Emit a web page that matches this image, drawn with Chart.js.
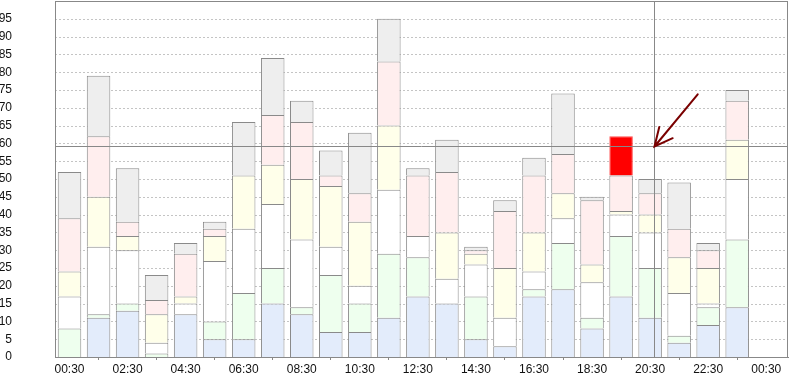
<!DOCTYPE html>
<html>
<head>
<meta charset="utf-8">
<script src="https://cdn.jsdelivr.net/npm/chart.js@4.4.1/dist/chart.umd.min.js"></script>
<style>
  html, body { margin: 0; padding: 0; background: #fff; }
  #wrap { width: 790px; height: 376px; }
</style>
</head>
<body>
<div id="wrap"><canvas id="stackChart"></canvas></div>
<script>
// hourly slots, one bar each
const slots = ['00:30','01:30','02:30','03:30','04:30','05:30','06:30','07:30','08:30','09:30','10:30','11:30',
               '12:30','13:30','14:30','15:30','16:30','17:30','18:30','19:30','20:30','21:30','22:30','23:30'];
// x axis tick positions (hours) and their labels
const tickHours = [0.5, 2.5, 4.5, 6.5, 8.5, 10.5, 12.5, 14.5, 16.5, 18.5, 20.5, 22.5, 24.5];
const tickLabels = ['00:30','02:30','04:30','06:30','08:30','10:30','12:30','14:30','16:30','18:30','20:30','22:30','00:30'];

// stacked series, bottom to top
const blueVals   = [0, 11, 13, 0, 12, 5, 5, 15, 12, 7, 7, 11, 17, 15, 5, 3, 17, 19, 8, 17, 11, 4, 9, 14];
const greenVals  = [8, 1, 2, 1, 0, 5, 13, 10, 2, 16, 8, 18, 11, 0, 12, 0, 2, 13, 3, 17, 14, 2, 5, 19];
const whiteVals  = [9, 19, 15, 3, 3, 17, 18, 18, 19, 8, 5, 18, 6, 7, 9, 8, 5, 7, 10, 6, 10, 12, 1, 17];
const yellowVals = [7, 14, 4, 8, 2, 7, 15, 11, 17, 17, 18, 18, 0, 13, 3, 14, 11, 7, 5, 1, 5, 10, 10, 11];
const pinkVals   = [15, 17, 4, 4, 12, 2, 0, 14, 16, 3, 8, 18, 17, 17, 1, 16, 16, 11, 18, 10, 6, 8, 5, 11];
const grayVals   = [13, 17, 15, 7, 3, 2, 15, 16, 6, 7, 17, 12, 2, 9, 1, 3, 5, 17, 1, 11, 4, 13, 2, 3];
const highlightSlot = '19:30';

// crosshair and arrow annotation, in data units
const crossX = 20.62, crossY = 59.4;
const arrowTail = { x: 22.14, y: 73.8 };

const slotHours = slots.map(s => {
  const [h, m] = s.split(':').map(Number);
  return h + m / 60;
});

const labelFont = { family: '"Liberation Sans Narrow", "Liberation Sans", sans-serif', size: 12 };

function makeSet(label, vals, color) {
  const isGray = label === 'gray';
  return {
    label,
    data: vals.map((v, i) => ({ x: slotHours[i], y: v })),
    backgroundColor: slots.map(s => (isGray && s === highlightSlot) ? '#ff0000' : color),
    borderColor: slots.map(s => (isGray && s === highlightSlot) ? '#ff5050' : '#8a8a8a'),
    borderWidth: 1,
    barPercentage: 1,
    categoryPercentage: 0.81
  };
}

const frame = {
  id: 'frame',
  beforeDatasetsDraw(chart) {
    const { ctx, chartArea: a, scales } = chart;
    ctx.save();
    ctx.strokeStyle = '#c4c4c4';
    ctx.lineWidth = 1;
    ctx.setLineDash([2, 2]);
    for (let v = 5; v < 100; v += 5) {
      const y = Math.round(scales.y.getPixelForValue(v)) + 0.5;
      ctx.beginPath();
      ctx.moveTo(a.left, y);
      ctx.lineTo(a.right, y);
      ctx.stroke();
    }
    ctx.restore();
  },
  afterDatasetsDraw(chart) {
    const { ctx, chartArea: a, scales } = chart;
    ctx.save();
    ctx.strokeStyle = '#888';
    ctx.lineWidth = 1;
    ctx.strokeRect(Math.round(a.left) + 0.5, Math.round(a.top) + 0.5,
                   Math.round(a.right - a.left) - 1, Math.round(a.bottom - a.top));
    // crosshair
    const cx = Math.round(scales.x.getPixelForValue(crossX)) + 0.5;
    const cy = Math.round(scales.y.getPixelForValue(crossY)) + 0.5;
    ctx.beginPath();
    ctx.moveTo(cx, a.top); ctx.lineTo(cx, a.bottom);
    ctx.moveTo(a.left, cy); ctx.lineTo(a.right, cy);
    ctx.stroke();
    // arrow
    const tx = scales.x.getPixelForValue(arrowTail.x);
    const ty = scales.y.getPixelForValue(arrowTail.y);
    const ang = Math.atan2(ty - cy, tx - cx);
    ctx.strokeStyle = '#7a0000';
    ctx.lineWidth = 2;
    ctx.lineCap = 'round';
    ctx.beginPath();
    ctx.moveTo(tx, ty); ctx.lineTo(cx, cy);
    ctx.moveTo(cx + 20 * Math.cos(ang - 0.45), cy + 20 * Math.sin(ang - 0.45));
    ctx.lineTo(cx, cy);
    ctx.lineTo(cx + 20 * Math.cos(ang + 0.45), cy + 20 * Math.sin(ang + 0.45));
    ctx.stroke();
    ctx.restore();
  }
};

new Chart(document.getElementById('stackChart'), {
  type: 'bar',
  data: {
    datasets: [
      makeSet('blue', blueVals, '#e3ecfb'),
      makeSet('green', greenVals, '#eeffee'),
      makeSet('white', whiteVals, '#ffffff'),
      makeSet('yellow', yellowVals, '#ffffea'),
      makeSet('pink', pinkVals, '#ffeeee'),
      makeSet('gray', grayVals, '#eeeeee')
    ]
  },
  options: {
    responsive: true,
    maintainAspectRatio: false,
    animation: false,
    layout: { padding: { top: 1, right: 2, left: 0, bottom: 0 } },
    plugins: { legend: { display: false }, tooltip: { enabled: false } },
    scales: {
      x: {
        type: 'linear',
        stacked: true,
        offset: false,
        min: 0,
        max: 25.25,
        afterBuildTicks: scale => { scale.ticks = tickHours.map(v => ({ value: v })); },
        afterFit: scale => { scale.height = 19; scale.paddingLeft = 0; scale.paddingRight = 0; },
        ticks: {
          autoSkip: false,
          maxRotation: 0,
          padding: 2,
          color: '#111',
          font: labelFont,
          callback: (v, i) => tickLabels[i]
        },
        grid: { drawOnChartArea: false, drawTicks: true, tickLength: 3, color: '#888' },
        border: { color: '#888' }
      },
      y: {
        stacked: true,
        min: 0,
        max: 100,
        afterFit: scale => { scale.width = 55; scale.paddingTop = 0; scale.paddingBottom = 0; },
        ticks: {
          stepSize: 5,
          padding: 43,
          color: '#111',
          font: labelFont,
          callback: v => v >= 100 ? '' : v
        },
        grid: { display: false, drawTicks: false },
        border: { color: '#888' }
      }
    }
  },
  plugins: [frame]
});
</script>
</body>
</html>
